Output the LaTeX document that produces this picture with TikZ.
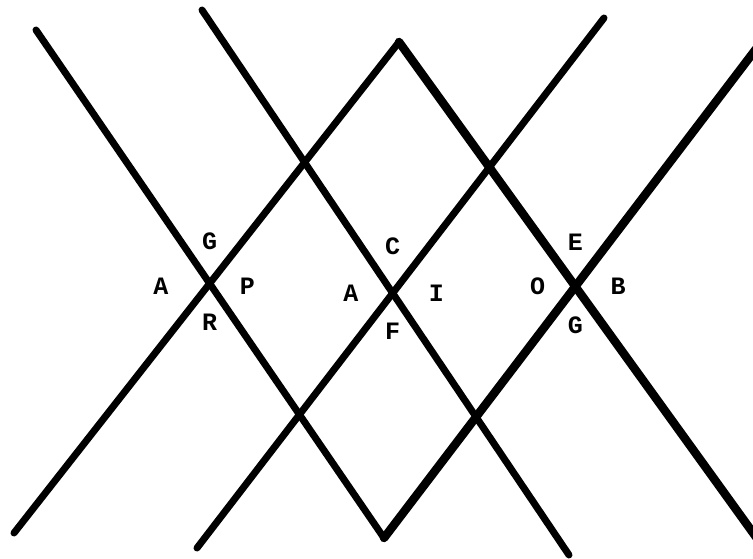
\documentclass[tikz,border=0pt]{standalone}
\usepackage{fontspec}
\usepackage{tikz}
\usetikzlibrary{positioning}
\newfontfamily\letterfont{Liberation Mono}

\tikzset{
  ray/.style={line width=7pt, line cap=round, line join=round},
  ray thick/.style={ray, line width=8.5pt},
  pt/.style={font=\letterfont\bfseries\fontsize{25}{25}\selectfont, inner sep=0pt},
}

\begin{document}
\begin{tikzpicture}[x=1pt,y=-1pt]
  \useasboundingbox (0,0) rectangle (753,559);
  % free ends of the strokes
  \coordinate (a1) at (36,30);
  \coordinate (a2) at (202,10);
  \coordinate (b1) at (14,533);
  \coordinate (b2) at (197,548);
  \coordinate (c2) at (569,555);
  \coordinate (c3) at (756,537);
  \coordinate (d2) at (604,18);
  \coordinate (d3) at (756,49);
  \coordinate (top) at (399,42);
  \coordinate (bot) at (384,538);

  % the strokes
  \draw[ray] (a1) -- (bot);
  \draw[ray thick] (bot) -- (d3);
  \draw[ray] (a2) -- (c2);
  \draw[ray] (b1) -- (top);
  \draw[ray thick] (top) -- (c3);
  \draw[ray] (b2) -- (d2);

  % the three crossings on the middle row
  \coordinate (xl) at (intersection of a1--bot and b1--top);
  \coordinate (xm) at (intersection of a2--c2 and b2--d2);
  \coordinate (xr) at (intersection of top--c3 and bot--d3);

  % letters round the left crossing
  \node[pt, above=34pt of xl] (gl) {G};
  \node[pt, below=30pt of xl] (rl) {R};
  \node[pt, left=41pt of xl, yshift=-3pt] (al) {A};
  \node[pt, right=30pt of xl, yshift=-3pt] (pl) {P};

  % letters round the middle crossing
  \node[pt, above=38pt of xm] (cm) {C};
  \node[pt, below=30pt of xm] (fm) {F};
  \node[pt, left=34pt of xm] (am) {A};
  \node[pt, right=36pt of xm] (im) {I};

  % letters round the right crossing
  \node[pt, above=36pt of xr] (er) {E};
  \node[pt, below=30pt of xr] (gr) {G};
  \node[pt, left=30pt of xr] (or) {O};
  \node[pt, right=35pt of xr] (br) {B};
\end{tikzpicture}
\end{document}
